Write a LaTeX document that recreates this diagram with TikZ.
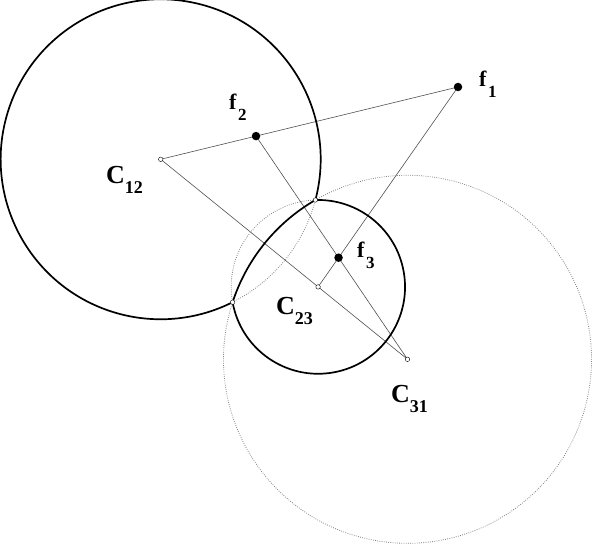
\documentclass[tikz,border=0pt]{standalone}
\usepackage{fontspec}
\setmainfont{Liberation Serif}
\definecolor{linegray}{HTML}{505050}
\definecolor{dotgray}{HTML}{808080}
\newcommand{\Clbl}[1]{{\fontsize{26}{26}\selectfont C}\raisebox{-10pt}{\fontsize{18}{18}\selectfont #1}}
\newcommand{\flbl}[1]{{\fontsize{22}{22}\selectfont f}\hspace{1.5pt}\raisebox{-11pt}{\fontsize{17}{17}\selectfont #1}}

\begin{document}
\begin{tikzpicture}[x=1pt, y=1pt,
    construction/.style={draw=linegray, line width=0.6pt},
    hidden/.style={draw=dotgray, line width=0.8pt, dash pattern=on 0.8pt off 1.4pt},
    bound/.style={draw=black, line width=1.7pt},
    focus/.style={circle, fill=black, inner sep=0pt, minimum size=8.5pt},
    centre/.style={circle, draw=black, fill=white, line width=0.4pt, inner sep=0pt, minimum size=4.5pt},
    lbl/.style={anchor=base west, inner sep=0pt, font=\bfseries}]
    \useasboundingbox (0,0) rectangle (592,545);

    % Centres and foci
    \coordinate (C12) at (160.7,385.7);
    \coordinate (C23) at (318.1,258.1);
    \coordinate (C31) at (407.5,185.7);
    \coordinate (f1) at (458,458);
    \coordinate (f2) at (256,408.9);
    \coordinate (f3) at (intersection of f2--C31 and f1--C23);

    % Common points of the circles
    \coordinate (P) at (315.4,345.0);
    \coordinate (Q) at (232.6,242.8);

    % Construction lines
    \draw[construction] (C12) -- (f1);
    \draw[construction] (C12) -- (C31);
    \draw[construction] (f2) -- (C31);
    \draw[construction] (f1) -- (C23);

    % Hidden arcs
    \draw[hidden] (P) arc[start angle=91.78, end angle=190.15, radius=86.9];
    \draw[hidden] (Q) arc[start angle=-63.29, end angle=-14.74, radius=160];
    \draw[hidden] (Q) arc[start angle=161.92, end angle=480.03, radius=184];

    % Boundary arcs
    \draw[bound] (P) arc[start angle=-14.74, end angle=296.71, radius=160];
    \draw[bound] (Q) arc[start angle=190.15, end angle=451.78, radius=86.9];
    \draw[bound] (Q) arc[start angle=161.92, end angle=120.03, radius=184];

    % Points
    \node[centre] (m12) at (C12) {};
    \node[centre] (m23) at (C23) {};
    \node[centre] (m31) at (C31) {};
    \node[centre] (mP) at (P) {};
    \node[centre] (mQ) at (Q) {};
    \node[focus] (d1) at (f1) {};
    \node[focus] (d2) at (f2) {};
    \node[focus] (d3) at (f3) {};

    % Labels
    \node[lbl] (l12) at (106,361) {\Clbl{12}};
    \node[lbl] (l23) at (276,230) {\Clbl{23}};
    \node[lbl] (l31) at (391,142) {\Clbl{31}};
    \node[lbl] (lf1) at (479,458) {\flbl{1}};
    \node[lbl] (lf2) at (229,435) {\flbl{2}};
    \node[lbl] (lf3) at (357,287) {\flbl{3}};
\end{tikzpicture}
\end{document}
